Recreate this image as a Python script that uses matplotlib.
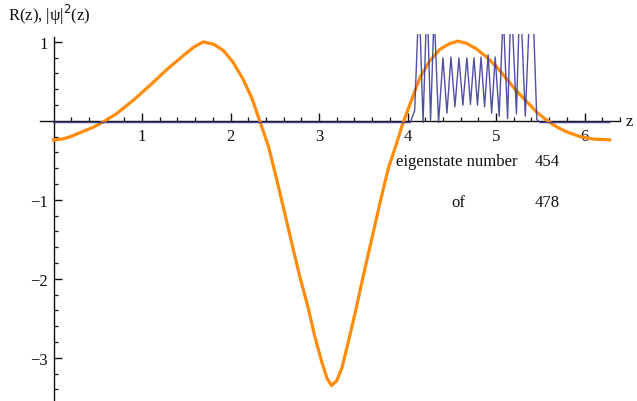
import matplotlib
matplotlib.use("Agg")
import matplotlib.pyplot as plt
from matplotlib.ticker import FixedLocator, NullFormatter
import matplotlib.transforms as mtransforms

# R(z)
r_z = [0.0, 0.10, 0.19, 0.34, 0.45, 0.58, 0.71, 0.90, 1.09, 1.28, 1.47, 1.58, 1.69, 1.81,
       1.92, 2.03, 2.14, 2.24, 2.33, 2.43, 2.51, 2.60, 2.69, 2.78, 2.88, 2.95, 3.03, 3.09,
       3.14, 3.20, 3.26, 3.33, 3.41, 3.50, 3.60, 3.69, 3.78, 3.88, 3.95, 4.07, 4.14, 4.25,
       4.37, 4.48, 4.57, 4.67, 4.78, 4.89, 5.01, 5.12, 5.23, 5.35, 5.46, 5.57, 5.69, 5.80,
       5.95, 6.10, 6.283]
r_v = [-0.24, -0.23, -0.20, -0.13, -0.08, 0.0, 0.09, 0.26, 0.45, 0.65, 0.83, 0.93, 1.0, 0.97,
       0.89, 0.74, 0.53, 0.29, 0.0, -0.33, -0.69, -1.11, -1.54, -1.96, -2.38, -2.72, -3.05,
       -3.26, -3.35, -3.29, -3.12, -2.80, -2.42, -1.96, -1.47, -1.03, -0.61, -0.27, -0.02,
       0.34, 0.55, 0.76, 0.91, 0.98, 1.01, 0.98, 0.91, 0.81, 0.68, 0.53, 0.38, 0.24, 0.11,
       0.01, -0.08, -0.14, -0.20, -0.23, -0.24]

# |psi|^2(z) (peaks and troughs)
psi_z = [0.0, 4.03, 4.08, 4.13, 4.175, 4.22, 4.26, 4.30, 4.35, 4.40, 4.445, 4.49, 4.535,
         4.58, 4.625, 4.67, 4.71, 4.75, 4.79, 4.83, 4.87, 4.91, 4.95, 4.99, 5.035, 5.08,
         5.13, 5.17, 5.23, 5.27, 5.33, 5.40, 5.46, 5.50, 6.283]
psi_v = [0.0, 0.0, 0.15, 1.6, 0.0, 1.6, 0.03, 1.4, 0.0, 0.82, 0.12, 0.83, 0.2, 0.82, 0.22,
         0.82, 0.23, 0.82, 0.22, 0.83, 0.2, 0.86, 0.12, 0.83, 0.08, 1.4, 0.05, 1.6, 0.11,
         1.7, 0.08, 2.0, 0.04, 0.0, 0.0]

x_major = [1, 2, 3, 4, 5, 6]
y_major = [-3, -2, -1, 1]
x_minor = [i / 5 for i in range(1, 33) if i % 5 != 0]
y_minor = [i / 5 for i in range(-17, 6) if i % 5 != 0]

plt.rcParams['font.family'] = ['Liberation Serif', 'DejaVu Serif']

fig = plt.figure(figsize=(6.37, 4.02), dpi=100)
ax = fig.add_axes([40 / 637, 0.0, 580 / 637, 367 / 402])
ax.set_xlim(-0.153, 6.40)
ax.set_ylim(-3.546, 1.10)

orange = '#FF8C0A'
blue = '#3D3D99'

ax.plot(r_z, r_v, color=orange, lw=2.3, zorder=3, solid_joinstyle='round')
off = mtransforms.offset_copy(ax.transData, fig=fig, x=0, y=-1.2, units='points')
ax.plot(psi_z, psi_v, color=blue, lw=1.0, alpha=0.9, zorder=4, transform=off)

for s in ['top', 'right']:
    ax.spines[s].set_visible(False)
ax.spines['left'].set_position(('data', 0))
ax.spines['bottom'].set_position(('data', 0))
ax.spines['left'].set_bounds(-3.546, 1.06)
for s in ['left', 'bottom']:
    ax.spines[s].set_linewidth(1.0)
    ax.spines[s].set_color('#111111')
    ax.spines[s].set_zorder(2.5)

ax.xaxis.set_major_locator(FixedLocator(x_major))
ax.xaxis.set_minor_locator(FixedLocator(x_minor))
ax.yaxis.set_major_locator(FixedLocator(y_major))
ax.yaxis.set_minor_locator(FixedLocator(y_minor))
ax.xaxis.set_minor_formatter(NullFormatter())
ax.yaxis.set_minor_formatter(NullFormatter())
ax.set_xticklabels([str(v) for v in x_major])
ax.set_yticklabels(['\u22123', '\u22122', '\u22121', '1'])

ax.tick_params(axis='x', which='major', direction='in', length=6, width=1.0, pad=5,
               labelsize=12, colors='#111111')
ax.tick_params(axis='x', which='minor', direction='in', length=3, width=0.9, colors='#111111')
ax.tick_params(axis='y', which='major', direction='in', length=6, width=1.0, pad=4,
               labelsize=12, colors='#111111')
ax.tick_params(axis='y', which='minor', direction='in', length=3, width=0.9, colors='#111111')

fig.text(8 / 637, 1 - 15 / 402, 'R(z), |\u03c8|$^2$(z)', fontsize=12, va='center', ha='left',
         color='#111111')
ax.text(6.46, 0.0, 'z', fontsize=12, va='center', ha='left', clip_on=False, color='#111111')

ax.text(3.87, -0.51, 'eigenstate number', fontsize=12, va='center', ha='left', color='#111111')
ax.text(5.44, -0.51, '454', fontsize=12, va='center', ha='left', color='#111111')
ax.text(4.50, -1.03, 'of', fontsize=12, va='center', ha='left', color='#111111')
ax.text(5.44, -1.03, '478', fontsize=12, va='center', ha='left', color='#111111')

fig.savefig('out.png', dpi=100)
